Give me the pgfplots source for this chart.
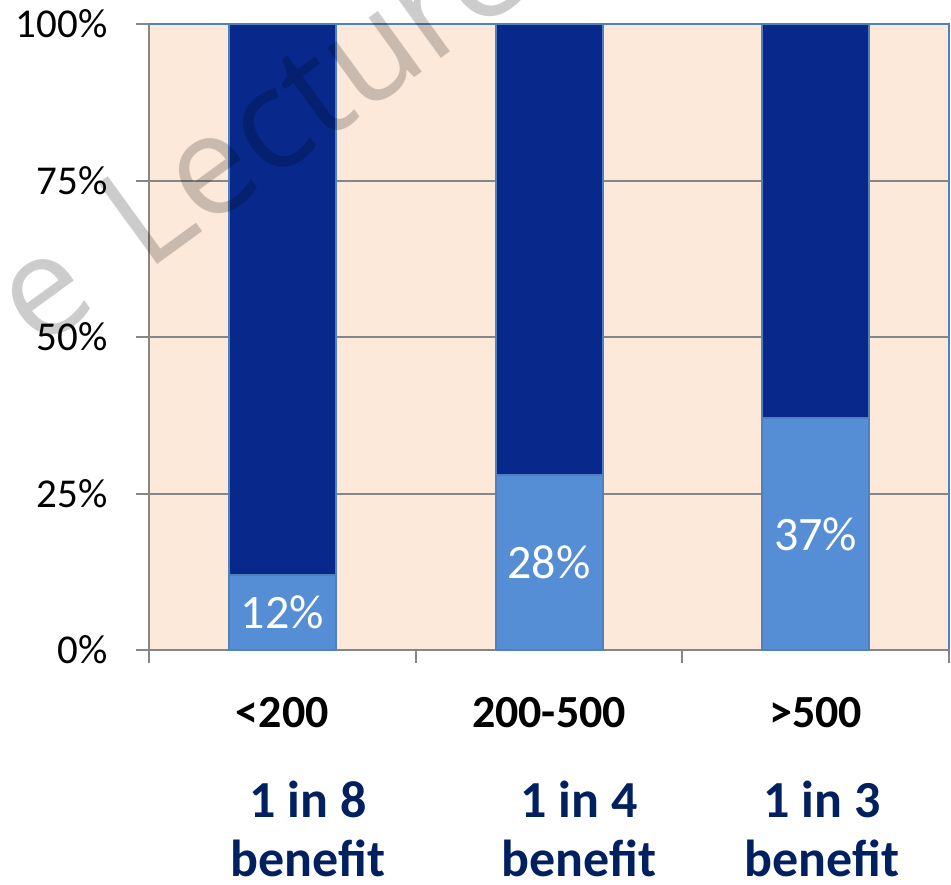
\documentclass[border=0pt]{standalone}
\usepackage{pgfplots}
\pgfplotsset{compat=1.18}
\usepackage{fontspec}
\setmainfont{Carlito}
\newfontfamily\wmfont{Open Sans}

\definecolor{peach}{HTML}{FDE9D9}
\definecolor{navybar}{HTML}{08288C}
\definecolor{lightbar}{HTML}{558ED5}
\definecolor{barline}{HTML}{4F81BD}
\definecolor{axisgray}{HTML}{868686}
\definecolor{textnavy}{HTML}{002060}

\tikzset{
  barlabel/.style={text=white, font=\fontsize{24}{28}\selectfont, anchor=center},
  benefit/.style={anchor=base, text=textnavy, font=\bfseries\fontsize{26}{30}\selectfont},
}

\begin{document}
\begin{tikzpicture}
\useasboundingbox (-74.5pt,-117pt) rectangle (401pt,325pt);
\begin{axis}[
  at={(0,0)}, anchor=south west,
  scale only axis,
  width=400pt, height=313pt,
  ybar stacked,
  bar width=53.5pt,
  xmin=-0.5, xmax=2.5,
  ymin=0, ymax=100,
  enlargelimits=false,
  clip=false,
  axis lines*=left,
  axis line style={draw=axisgray, line width=1pt},
  axis background/.style={fill=peach, draw=barline, line width=1pt},
  tick align=outside,
  major tick length=6.5pt,
  tick style={draw=axisgray, line width=1pt},
  ytick={0,25,50,75,100},
  yticklabel={\pgfmathprintnumber{\tick}\%},
  /pgf/number format/assume math mode=true,
  yticklabel style={font=\fontsize{20.5}{24}\selectfont, inner sep=0pt, xshift=-14pt},
  extra y ticks={25,50,75},
  extra y tick labels={},
  extra y tick style={ymajorgrids=true, major grid style={draw=axisgray, line width=1pt}},
  xtick={-0.5,0.5,1.5,2.5},
  xticklabels={},
  extra x ticks={0,1,2},
  extra x tick labels={<200,200-500,>500},
  extra x tick style={major tick length=0pt, tick style={draw=none},
    xticklabel style={font=\bfseries\fontsize{23}{27}\selectfont, anchor=base, yshift=-38.5pt}},
]
% lower segment: share who benefit
\addplot[fill=lightbar, draw=barline, line width=1pt]
  coordinates {(0,12) (1,28) (2,37)};
% upper segment: remainder to 100%
\addplot[fill=navybar, draw=barline, line width=1pt]
  coordinates {(0,88) (1,72) (2,63)};

% centres of the lower segments, for the value labels
\coordinate (v1) at (axis cs:0,6);
\coordinate (v2) at (axis cs:1,14);
\coordinate (v3) at (axis cs:2,18.5);

\node[benefit, yshift=-83.5pt] at (axis cs:0.096,0) {1 in 8};
\node[benefit, yshift=-113pt] at (axis cs:0.096,0) {benefit};
\node[benefit, yshift=-83.5pt] at (axis cs:1.112,0) {1 in 4};
\node[benefit, yshift=-113pt] at (axis cs:1.112,0) {benefit};
\node[benefit, yshift=-83.5pt] at (axis cs:2.024,0) {1 in 3};
\node[benefit, yshift=-113pt] at (axis cs:2.024,0) {benefit};
\end{axis}
\node[barlabel] at (v1) {12\%};
\node[barlabel] at (v2) {28\%};
\node[barlabel] at (v3) {37\%};
% watermark across the upper left
\begin{scope}
\clip (-74.5pt,-117pt) rectangle (401pt,325pt);
\node[anchor=base west, rotate=36, inner sep=0pt, text=black, text opacity=0.2,
  font=\wmfont\fontsize{70}{82}\selectfont] at (-56pt,149pt) {e\hspace{0.14em} Lecture};
\end{scope}
\end{tikzpicture}
\end{document}
